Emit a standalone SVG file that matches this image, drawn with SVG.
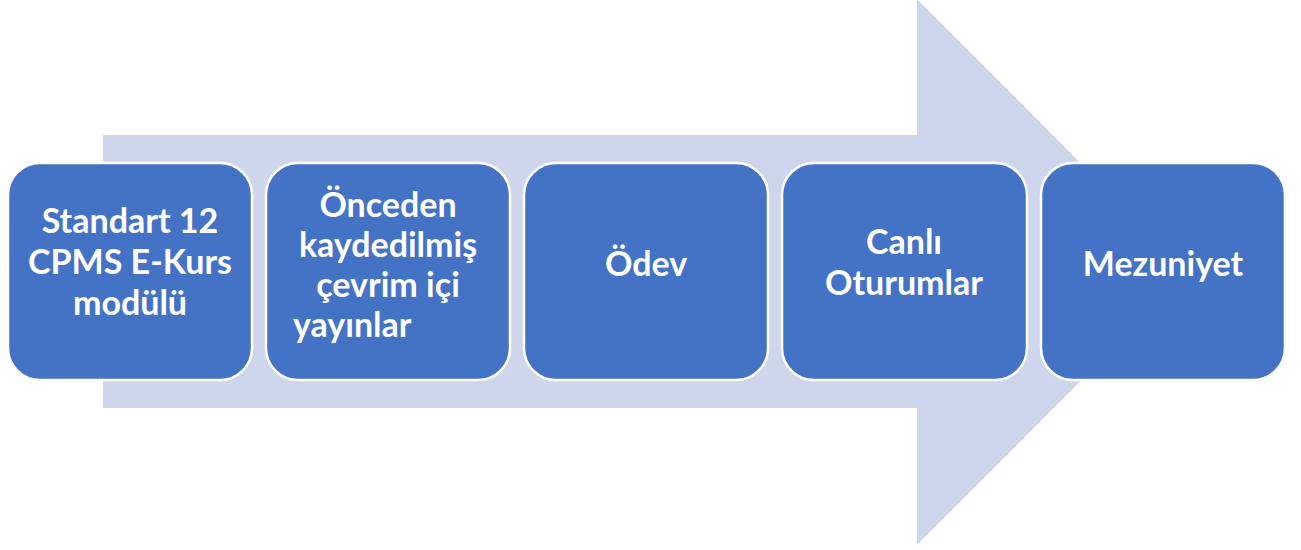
<svg xmlns="http://www.w3.org/2000/svg" width="1301" height="550" viewBox="0 0 1301 550">
<style>
.box{fill:#4472C4;stroke:#FFFFFF;stroke-width:2.5}
.t{font-family:Lato,"Liberation Sans",sans-serif;font-weight:bold;font-size:34px;fill:#FFFFFF;text-anchor:middle}
.tl{text-anchor:start}
</style>
<rect width="1301" height="550" fill="#FFFFFF"/>
<g id="connectors">
<polygon id="arrow" points="103,135 917,135 917,-1 1189,272 917,545 917,408 103,408" fill="#CFD5EA"/>
</g>
<g id="node1">
<rect class="box" x="8" y="163" width="244" height="217" rx="32"/>
<text class="t" x="130" y="233">Standart 12</text>
<text class="t" x="130" y="274">CPMS E-Kurs</text>
<text class="t" x="130" y="315">modülü</text>
</g>
<g id="node2">
<rect class="box" x="266" y="163" width="244" height="217" rx="32"/>
<text class="t" x="388" y="217">Önceden</text>
<text class="t" x="388" y="257">kaydedilmiş</text>
<text class="t" x="388" y="297">çevrim içi</text>
<text class="t tl" x="293" y="337">yayınlar</text>
</g>
<g id="node3">
<rect class="box" x="524" y="163" width="244" height="217" rx="32"/>
<text class="t" x="646" y="276">Ödev</text>
</g>
<g id="node4">
<rect class="box" x="782" y="163" width="245" height="217" rx="32"/>
<text class="t" x="904" y="254">Canlı</text>
<text class="t" x="904" y="295">Oturumlar</text>
</g>
<g id="node5">
<rect class="box" x="1041" y="163" width="244" height="217" rx="32"/>
<text class="t" x="1163" y="276">Mezuniyet</text>
</g>
</svg>
